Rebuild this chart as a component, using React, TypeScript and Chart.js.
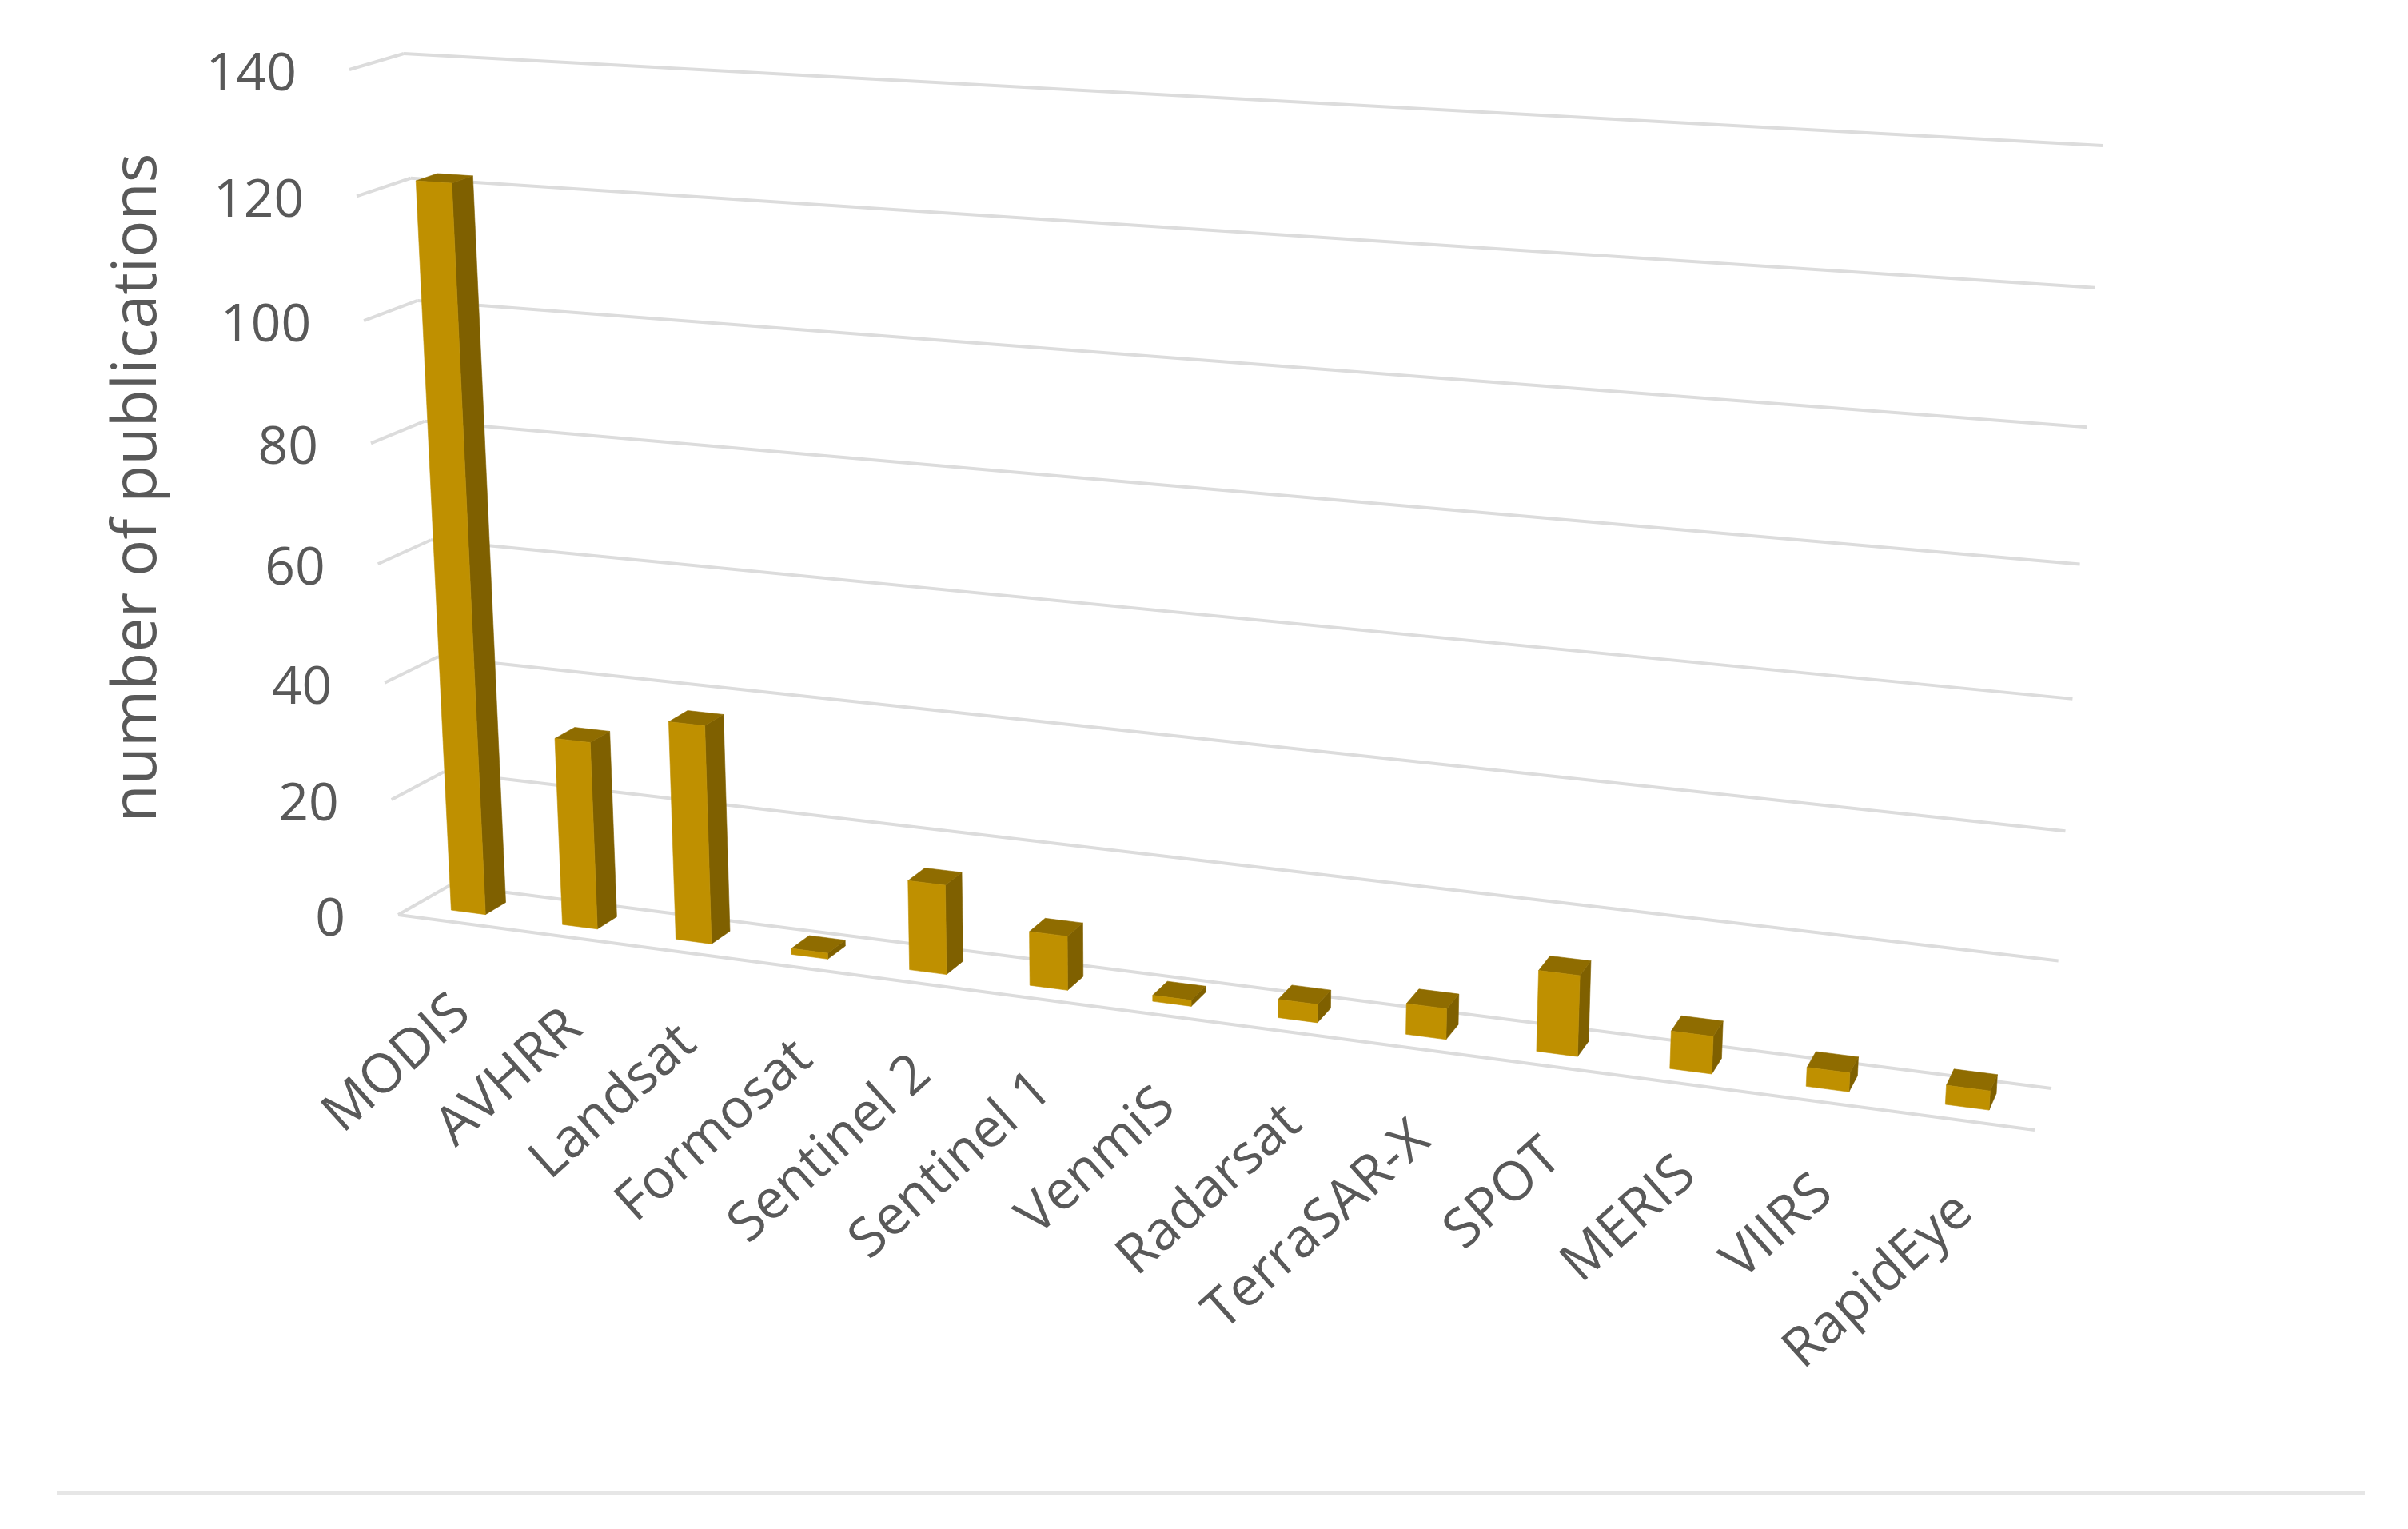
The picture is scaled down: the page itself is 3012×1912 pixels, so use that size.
import React, { useEffect, useRef } from "react";
import { Chart, registerables } from "chart.js";

Chart.register(...registerables);

const categories = ["MODIS", "AVHRR", "Landsat", "Formosat", "Sentinel 2", "Sentinel 1", "VenmiS", "Radarsat", "TerraSAR-X", "SPOT", "MERIS", "VIIRS", "RapidEye"];
const publications = [122, 32, 37, 1, 15, 9, 1, 3, 5, 13, 6, 3, 3];
const yTitle = "number of publications";

type P = [number, number];
// Perspective frame of the 3-D chart box: [bottom-left, bottom-right, top-right, top-left]
const BACK_WALL: P[] = [[563, 1107], [2566, 1361], [2630, 182], [505, 67]];
const FRONT_WALL: P[] = [[498, 1144], [2545, 1413], [2609, 213], [437, 87]];
const BAR_Z_BACK = 0.28;
const BAR_Z_FRONT = 0.68;
const BAR_LEAN = 0.0035;
const BAR_SHIFT = -0.001;

const FONT = '"Open Sans", sans-serif';
const TEXT = "#595959";
const GRID = "#DCDCDC";
const FACE = "#BF9000";
const SIDE = "#7F6000";
const TOP = "#8F6C00";

function quadMap(q: P[]) {
  const [p0, p1, p2, p3] = q;
  const dx1 = p1[0] - p2[0], dx2 = p3[0] - p2[0], sx = p0[0] - p1[0] + p2[0] - p3[0];
  const dy1 = p1[1] - p2[1], dy2 = p3[1] - p2[1], sy = p0[1] - p1[1] + p2[1] - p3[1];
  const den = dx1 * dy2 - dx2 * dy1;
  const g = (sx * dy2 - dx2 * sy) / den;
  const h = (dx1 * sy - sx * dy1) / den;
  const a = p1[0] - p0[0] + g * p1[0], b = p3[0] - p0[0] + h * p3[0], c = p0[0];
  const d = p1[1] - p0[1] + g * p1[1], e = p3[1] - p0[1] + h * p3[1], f = p0[1];
  return (u: number, v: number): P => {
    const w = g * u + h * v + 1;
    return [(a * u + b * v + c) / w, (d * u + e * v + f) / w];
  };
}
const backMap = quadMap(BACK_WALL);
const frontMap = quadMap(FRONT_WALL);
function project(u: number, v: number, z: number): P {
  const a = backMap(u, v), b = frontMap(u, v);
  return [a[0] + (b[0] - a[0]) * z, a[1] + (b[1] - a[1]) * z];
}
const barPoint = (u: number, v: number, z: number) => project(u + BAR_SHIFT + BAR_LEAN * v, v, z);

function poly(ctx: CanvasRenderingContext2D, pts: P[], fill: string) {
  ctx.beginPath();
  pts.forEach((p, i) => (i ? ctx.lineTo(p[0], p[1]) : ctx.moveTo(p[0], p[1])));
  ctx.closePath();
  ctx.fillStyle = fill;
  ctx.fill();
  ctx.strokeStyle = fill;
  ctx.lineWidth = 0.6;
  ctx.stroke();
}
function seg(ctx: CanvasRenderingContext2D, a: P, b: P) {
  ctx.beginPath();
  ctx.moveTo(a[0], a[1]);
  ctx.lineTo(b[0], b[1]);
  ctx.stroke();
}

const perspectivePlugin = {
  id: "perspective3d",
  beforeDraw(chart: any) {
    const { ctx, scales, chartArea } = chart;
    const yS = scales.y;
    const vOf = (value: number) => (chartArea.bottom - yS.getPixelForValue(value)) / chartArea.height;
    ctx.save();
    ctx.fillStyle = "#FFFFFF";
    ctx.fillRect(0, 0, chart.width, chart.height);

    // grid lines on back wall and side wall, plus value labels
    ctx.strokeStyle = GRID;
    ctx.lineWidth = 4;
    ctx.font = `66px ${FONT}`;
    ctx.textAlign = "right";
    ctx.textBaseline = "middle";
    yS.ticks.forEach((t: any) => {
      const v = vOf(t.value);
      seg(ctx, project(0, v, 0), project(1, v, 0));
      seg(ctx, project(0, v, 0), project(0, v, 1));
      const p = project(0, v, 1);
      ctx.fillStyle = TEXT;
      ctx.fillText(String(t.value), p[0] - 66, p[1] + 7);
    });
    seg(ctx, project(0, 0, 1), project(1, 0, 1));

    // y-axis title
    ctx.save();
    ctx.translate(173, 610);
    ctx.rotate(-Math.PI / 2);
    ctx.textAlign = "center";
    ctx.textBaseline = "middle";
    ctx.fillStyle = TEXT;
    ctx.font = `77px ${FONT}`;
    ctx.fillText(yTitle, 0, 0);
    ctx.restore();

    // category labels
    ctx.font = `68px ${FONT}`;
    ctx.textAlign = "right";
    ctx.textBaseline = "middle";
    ctx.fillStyle = TEXT;
    scales.x.getLabels().forEach((label: string, i: number) => {
      const u = (scales.x.getPixelForValue(i) - chartArea.left) / chartArea.width;
      const p = project(u, 0, 1);
      ctx.save();
      ctx.translate(p[0] + 12 - 10 * u, p[1] + 104);
      ctx.rotate((-42 * Math.PI) / 180);
      ctx.fillText(label, 0, 0);
      ctx.restore();
    });

    // page rule at the bottom
    ctx.strokeStyle = "#E6E6E6";
    ctx.lineWidth = 5;
    seg(ctx, [71, 1867.5], [2958, 1867.5]);
    ctx.restore();
  },
  beforeDatasetsDraw(chart: any) {
    const { ctx, chartArea } = chart;
    const meta = chart.getDatasetMeta(0);
    const W = chartArea.width, H = chartArea.height;
    ctx.save();
    meta.data.forEach((el: any) => {
      const u0 = (el.x - el.width / 2 - chartArea.left) / W;
      const u1 = (el.x + el.width / 2 - chartArea.left) / W;
      const v0 = (chartArea.bottom - el.base) / H;
      const v1 = (chartArea.bottom - el.y) / H;
      const zb = BAR_Z_BACK, zf = BAR_Z_FRONT;
      poly(ctx, [barPoint(u1, v0, zf), barPoint(u1, v0, zb), barPoint(u1, v1, zb), barPoint(u1, v1, zf)], SIDE);
      poly(ctx, [barPoint(u0, v1, zf), barPoint(u1, v1, zf), barPoint(u1, v1, zb), barPoint(u0, v1, zb)], TOP);
      poly(ctx, [barPoint(u0, v0, zf), barPoint(u1, v0, zf), barPoint(u1, v1, zf), barPoint(u0, v1, zf)], FACE);
    });
    ctx.restore();
    return false;
  },
};

export default function App() {
  const ref = useRef<HTMLCanvasElement>(null);
  useEffect(() => {
    const chart = new Chart(ref.current as HTMLCanvasElement, {
      type: "bar",
      data: {
        labels: categories,
        datasets: [{ label: yTitle, data: publications, backgroundColor: FACE, categoryPercentage: 1, barPercentage: 0.31 }],
      },
      options: {
        animation: false,
        responsive: false,
        devicePixelRatio: 1,
        layout: { padding: 0 },
        plugins: { legend: { display: false }, tooltip: { enabled: false } },
        scales: {
          x: { display: false },
          y: { display: false, min: 0, max: 140, ticks: { stepSize: 20 } },
        },
      },
      plugins: [perspectivePlugin],
    } as any);
    return () => chart.destroy();
  }, []);
  return (
    <div style={{ position: "absolute", left: 0, top: 0, width: 3012, height: 1912 }}>
      <canvas ref={ref} width={3012} height={1912} style={{ display: "block" }} />
    </div>
  );
}
